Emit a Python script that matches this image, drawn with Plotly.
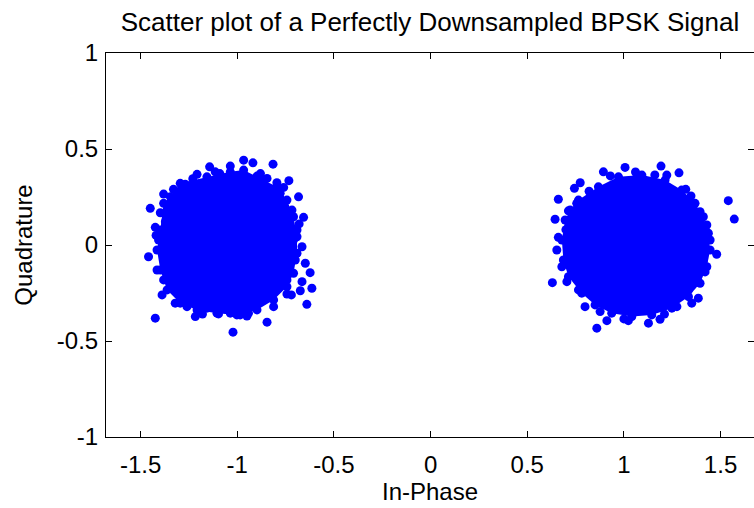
import plotly.graph_objects as go

# ---- data (In-Phase, Quadrature) ----
# dense core outline of the cluster around -1
left_core_x = [-1.295, -1.157, -1.036, -0.967, -0.864, -0.795, -0.743, -0.709, -0.691, -0.691,
               -0.709, -0.743, -0.812, -0.898, -1.002, -1.105, -1.208, -1.295, -1.363, -1.398,
               -1.415, -1.398, -1.381, -1.346]
left_core_y = [0.321, 0.355, 0.381, 0.390, 0.338, 0.303, 0.234, 0.147, 0.043, -0.043,
               -0.147, -0.217, -0.286, -0.338, -0.364, -0.355, -0.338, -0.303, -0.234, -0.130,
               -0.026, 0.078, 0.217, 0.251]
# individual samples visible around the cluster around -1
left_pts_x = [-0.967, -0.919, -0.815, -1.036, -1.143, -1.114, -1.208, -0.898, -0.846, -0.733,
              -0.795, -1.269, -1.381, -1.321, -0.683, -1.450, -1.398, -0.717, -0.657, -1.424,
              -0.691, -1.459, -0.665, -0.648, -0.623, -0.665, -0.614, -0.674, -1.389, -0.743,
              -0.640, -1.321, -1.295, -1.424, -1.217, -1.097, -0.846, -1.022, -0.985, -0.942,
              -1.346, -1.372, -1.407, -1.415, -1.381, -1.260, -1.157, -1.036, -0.778, -0.709,
              -0.700, -0.743, -0.812, -1.230, -1.090, -0.880, -0.760, -1.330, -1.420, -0.680,
              -0.720, -1.180, -0.950]
left_pts_y = [0.442, 0.428, 0.421, 0.411, 0.407, 0.381, 0.368, 0.359, 0.347, 0.335,
              0.324, 0.316, 0.265, 0.238, 0.251, 0.191, 0.168, 0.182, 0.144, 0.092,
              0.078, -0.061, -0.009, -0.095, -0.144, -0.191, -0.225, -0.238, -0.260, -0.255,
              -0.309, -0.303, -0.265, -0.381, -0.373, -0.359, -0.402, -0.454, -0.364, -0.355,
              0.199, 0.121, 0.026, -0.130, -0.182, -0.321, -0.329, -0.355, 0.269, 0.026,
              -0.078, -0.182, -0.321, 0.345, 0.372, 0.372, 0.300, 0.290, 0.050, 0.110,
              -0.260, -0.360, -0.370]

# dense core outline of the cluster around +1
right_core_x = [0.765, 0.868, 0.972, 1.093, 1.213, 1.299, 1.368, 1.411, 1.437, 1.446,
                1.429, 1.394, 1.334, 1.248, 1.144, 1.041, 0.937, 0.851, 0.782, 0.713,
                0.687, 0.679, 0.696, 0.722]
right_core_y = [0.234, 0.303, 0.355, 0.364, 0.338, 0.286, 0.217, 0.147, 0.061, -0.026,
                -0.113, -0.199, -0.269, -0.329, -0.364, -0.373, -0.355, -0.312, -0.251, -0.165,
                -0.078, 0.026, 0.130, 0.182]
# individual samples visible around the cluster around +1
right_pts_x = [1.192, 1.006, 0.894, 1.285, 1.222, 0.774, 0.744, 0.661, 0.756, 1.347,
               1.540, 1.571, 0.713, 0.644, 0.661, 1.394, 1.429, 1.446, 0.653, 1.480,
               1.411, 0.679, 0.630, 0.705, 1.368, 1.385, 0.765, 0.799, 0.877, 0.912,
               0.860, 1.023, 1.127, 1.187, 1.274, 1.334, 1.351, 0.930, 1.060, 1.160,
               1.320, 0.820, 0.700, 1.420, 1.000, 1.210]
right_pts_y = [0.411, 0.404, 0.381, 0.376, 0.364, 0.324, 0.295, 0.238, 0.217, 0.255,
               0.231, 0.135, 0.178, 0.134, 0.040, 0.173, 0.104, 0.026, -0.026, -0.048,
               -0.078, -0.113, -0.196, -0.191, -0.173, -0.277, -0.234, -0.321, -0.347, -0.394,
               -0.433, -0.394, -0.407, -0.387, -0.321, -0.234, -0.303, 0.360, 0.380, 0.365,
               0.290, 0.280, 0.080, -0.140, -0.385, -0.360]

x_ticks = [-1.5, -1, -0.5, 0, 0.5, 1, 1.5]
x_tick_text = ["-1.5", "-1", "-0.5", "0", "0.5", "1", "1.5"]
y_ticks = [-1, -0.5, 0, 0.5, 1]
y_tick_text = ["-1", "-0.5", "0", "0.5", "1"]

BLUE = "#0000FF"
FONT = "Liberation Sans, Arial, Helvetica, sans-serif"

fig = go.Figure()
for cx, cy in [(left_core_x, left_core_y), (right_core_x, right_core_y)]:
    fig.add_trace(go.Scatter(x=cx, y=cy, mode="lines+markers", fill="toself",
                             fillcolor=BLUE, line=dict(width=0, color=BLUE),
                             marker=dict(size=9, color=BLUE, line=dict(width=0)),
                             hoverinfo="skip", showlegend=False))
for px, py in [(left_pts_x, left_pts_y), (right_pts_x, right_pts_y)]:
    fig.add_trace(go.Scatter(x=px, y=py, mode="markers",
                             marker=dict(size=9, color=BLUE, line=dict(width=0)),
                             showlegend=False))

axis_common = dict(showline=True, linecolor="black", linewidth=1, mirror="ticks",
                   ticks="inside", ticklen=6, tickcolor="black", tickwidth=1,
                   showgrid=False, zeroline=False, automargin=False,
                   tickfont=dict(family=FONT, size=24, color="black"))

fig.update_layout(
    width=754, height=508,
    margin=dict(l=106, r=0, t=53, b=71, autoexpand=False),
    paper_bgcolor="white", plot_bgcolor="white",
    title=dict(text="Scatter plot of a Perfectly Downsampled BPSK Signal",
               x=0.5, xanchor="center", xref="paper",
               y=1 - 22 / 508, yref="container", yanchor="middle",
               font=dict(family=FONT, size=26, color="black")),
    xaxis=dict(range=[-1.679, 1.673], tickvals=x_ticks, ticktext=x_tick_text,
               title=dict(text="In-Phase", font=dict(family=FONT, size=24, color="black"),
                          standoff=0),
               ticklabelstandoff=6, **axis_common),
    yaxis=dict(range=[-1, 1], tickvals=y_ticks, ticktext=y_tick_text,
               title=dict(text="Quadrature", font=dict(family=FONT, size=24, color="black"),
                          standoff=17),
               ticklabelstandoff=2, **axis_common),
)

fig.write_html("out.html",
               config={"displayModeBar": False},
               post_script="document.body.style.margin='0px';"
                           "document.body.style.overflow='hidden';")
